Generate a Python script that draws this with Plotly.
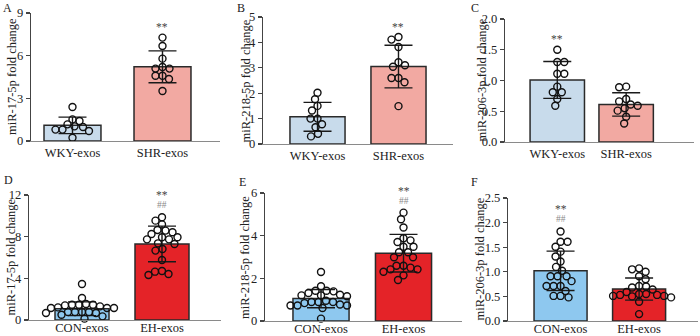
import plotly.graph_objects as go

# ---------------- data ----------------
cats_top = ["WKY-exos", "SHR-exos"]
cats_bot = ["CON-exos", "EH-exos"]

A_wky = [2.39, 1.52, 1.41, 1.17, 1.03, 0.98, 0.80, 0.80, 0.70, 0.23]
A_shr = [7.27, 6.68, 5.79, 5.20, 5.09, 5.09, 4.59, 4.59, 4.36, 3.52]
A_mean = [1.10, 5.22]
A_sd = [0.58, 1.12]

B_wky = [2.02, 1.76, 1.50, 1.32, 1.00, 1.00, 0.78, 0.66, 0.40, 0.30]
B_shr = [4.21, 4.11, 3.82, 3.22, 3.10, 3.04, 2.60, 2.60, 2.43, 1.49]
B_mean = [1.07, 3.05]
B_sd = [0.57, 0.84]

C_wky = [1.50, 1.30, 1.30, 1.11, 1.11, 0.90, 0.81, 0.81, 0.70, 0.59]
C_shr = [0.90, 0.89, 0.70, 0.66, 0.61, 0.59, 0.55, 0.51, 0.41, 0.30]
C_mean = [1.01, 0.61]
C_sd = [0.30, 0.19]

D_con = [3.45, 2.11, 1.53, 1.47, 1.47, 1.47, 1.40, 1.31, 1.21, 1.15, 1.15,
         1.15, 0.77, 0.77, 0.77, 0.77, 0.67, 0.67, 0.51, 0.35, 0.13]
D_eh = [9.86, 9.54, 9.18, 8.58, 8.64, 8.42, 7.94, 7.74, 7.74, 7.94, 8.26,
        7.30, 7.36, 6.66, 6.82, 5.76, 4.70, 4.32, 4.42, 4.64]
D_mean = [1.08, 7.30]
D_sd = [0.66, 1.71]

E_con = [2.30, 1.63, 1.42, 1.42, 1.39, 1.31, 1.23, 1.20, 1.20, 1.16, 0.95,
         0.89, 0.89, 0.89, 0.84, 0.77, 0.73, 0.73, 0.73, 0.61, 0.11]
E_eh = [5.08, 4.77, 4.38, 3.78, 3.88, 3.70, 3.48, 3.48, 3.22, 3.22, 2.99,
        2.99, 2.59, 2.50, 2.42, 2.31, 2.42, 2.59, 2.14, 1.92]
E_mean = [1.05, 3.18]
E_sd = [0.43, 0.88]

F_con = [1.82, 1.61, 1.61, 1.51, 1.41, 1.31, 1.21, 1.10, 1.02, 0.91, 0.91,
         0.91, 0.81, 0.71, 0.71, 0.71, 0.61, 0.51, 0.51, 0.48]
F_eh = [1.07, 1.05, 1.00, 0.91, 0.85, 0.71, 0.70, 0.68, 0.64, 0.59, 0.55,
        0.55, 0.53, 0.53, 0.51, 0.51, 0.50, 0.48, 0.39, 0.14]
F_mean = [1.02, 0.65]
F_sd = [0.40, 0.225]

y_titles = ["miR-17-5p fold change", "miR-218-5p fold change", "miR-206-3p fold change",
            "miR-17-5p fold change", "miR-218-5p fold change", "miR-206-3p fold change"]
letters = ["A", "B", "C", "D", "E", "F"]

# ---------------- style / layout ----------------
W, H = 700, 336
FONT = "Liberation Serif"
top_colors = ["#c8dbeb", "#f2a9a2"]
bot_colors = ["#8ec8ef", "#e42328"]

panels = [
    dict(cats=cats_top, pts=[A_wky, A_shr], mean=A_mean, sd=A_sd, colors=top_colors,
         box=(31, 220, 13, 141), xr=(-0.461, 1.639), yr=(0, 9), tick=[0, 3, 6, 9], fmt="d",
         bw=0.633, star=1, hash=False, title_x=12, letter_xy=(2, 0), lab_off=0),
    dict(cats=cats_top, pts=[B_wky, B_shr], mean=B_mean, sd=B_sd, colors=top_colors,
         box=(263, 453, 17, 144), xr=(-0.673, 1.673), yr=(0, 5), tick=[0, 1, 2, 3, 4, 5], fmt="d",
         bw=0.68, star=1, hash=False, title_x=245, letter_xy=(236, 0), lab_off=0),
    dict(cats=cats_top, pts=[C_wky, C_shr], mean=C_mean, sd=C_sd, colors=top_colors,
         box=(505, 694, 19, 142), xr=(-0.759, 1.985), yr=(0, 2), tick=[0, 0.5, 1, 1.5, 2], fmt=".1f",
         bw=0.79, star=0, hash=False, title_x=481, letter_xy=(470, 0), lab_off=0),
    dict(cats=cats_bot, pts=[D_con, D_eh], mean=D_mean, sd=D_sd, colors=bot_colors,
         box=(29, 221, 195, 320), xr=(-0.6625, 1.7375), yr=(0, 12), tick=[0, 4, 8, 12], fmt="d",
         bw=0.675, star=1, hash=True, title_x=10, letter_xy=(3, 172), lab_off=-4),
    dict(cats=cats_bot, pts=[E_con, E_eh], mean=E_mean, sd=E_sd, colors=bot_colors,
         box=(265, 462, 193, 321), xr=(-0.679, 1.709), yr=(0, 6), tick=[0, 2, 4, 6], fmt="d",
         bw=0.68, star=1, hash=True, title_x=245, letter_xy=(238, 174), lab_off=-4),
    dict(cats=cats_bot, pts=[F_con, F_eh], mean=F_mean, sd=F_sd, colors=bot_colors,
         box=(508, 698, 198, 321), xr=(-0.669, 1.75), yr=(0, 2.5), tick=[0, 0.5, 1, 1.5, 2, 2.5], fmt=".1f",
         bw=0.675, star=0, hash=True, title_x=479, letter_xy=(470, 174), lab_off=-4),
]


def swarm_offsets(vals, ppu_y, ppu_x, diam=7.0):
    order = sorted(range(len(vals)), key=lambda i: -vals[i])
    placed, offs = [], [0.0] * len(vals)
    for n, i in enumerate(order):
        y = vals[i] * ppu_y
        k, found = 0, None
        while found is None:
            if k == 0:
                cands = [0.0]
            else:
                s = 0.5 * k
                cands = [s, -s] if n % 2 == 0 else [-s, s]
            for c in cands:
                if all((c - px) ** 2 + (y - py) ** 2 >= diam ** 2 for px, py in placed):
                    found = c
                    break
            k += 1
        placed.append((found, y))
        offs[i] = found / ppu_x
    return offs


fig = go.Figure()
annotations = []
layout_axes = {}

for p_i, p in enumerate(panels):
    n = p_i + 1
    xa = "x" if n == 1 else f"x{n}"
    ya = "y" if n == 1 else f"y{n}"
    x0, x1, yt, yb = p["box"]
    ppu_x = (x1 - x0) / (p["xr"][1] - p["xr"][0])
    ppu_y = (yb - yt) / (p["yr"][1] - p["yr"][0])

    fig.add_trace(go.Bar(
        x=[0, 1], y=p["mean"], width=p["bw"], xaxis=xa, yaxis=ya,
        marker=dict(color=p["colors"], line=dict(color="#2a2a2a", width=1.5)),
        error_y=dict(type="data", array=p["sd"], visible=True, color="#1a1a1a",
                     thickness=1.4, width=14),
        showlegend=False, hoverinfo="skip"))

    for g in range(2):
        vals = p["pts"][g]
        offs = swarm_offsets(vals, ppu_y, ppu_x)
        fig.add_trace(go.Scatter(
            x=[g + o for o in offs], y=vals, mode="markers", xaxis=xa, yaxis=ya,
            marker=dict(symbol="circle-open", size=7, color="#111111", line=dict(width=1.4)),
            cliponaxis=False, showlegend=False, hoverinfo="skip"))

    axkey = "xaxis" if n == 1 else f"xaxis{n}"
    aykey = "yaxis" if n == 1 else f"yaxis{n}"
    layout_axes[axkey] = dict(
        domain=[x0 / W, x1 / W], range=list(p["xr"]), anchor=ya, automargin=False,
        tickmode="array", tickvals=[0, 1], ticktext=p["cats"],
        ticklabelstandoff=p["lab_off"],
        showline=True, linecolor="#8a8a8a", linewidth=1.3, ticks="",
        showgrid=False, zeroline=False, fixedrange=True,
        tickfont=dict(family=FONT, size=12.5, color="#222"))
    layout_axes[aykey] = dict(
        domain=[1 - yb / H, 1 - yt / H], range=list(p["yr"]), anchor=xa, automargin=False,
        tickmode="array", tickvals=p["tick"],
        ticktext=[(f"{t:.1f}" if p["fmt"] == ".1f" else f"{int(t)}") for t in p["tick"]],
        showline=True, linecolor="#444", linewidth=1.2, ticks="outside", ticklen=4,
        tickwidth=1.1, tickcolor="#444", showgrid=False, zeroline=False, fixedrange=True,
        tickfont=dict(family=FONT, size=12.5, color="#222"))

    # y-axis title
    annotations.append(dict(
        text=y_titles[p_i], xref="paper", yref="paper", x=p["title_x"] / W,
        y=1 - (yt + yb) / 2 / H, textangle=-90, showarrow=False,
        xanchor="center", yanchor="middle",
        font=dict(family=FONT, size=12.5, color="#222")))
    # panel letter
    lx, ly = p["letter_xy"]
    annotations.append(dict(
        text=letters[p_i], xref="paper", yref="paper", x=lx / W, y=1 - ly / H,
        xanchor="left", yanchor="top", showarrow=False, borderpad=0,
        font=dict(family=FONT, size=12, color="#222")))
    # significance marks
    g = p["star"]
    top_val = max(p["pts"][g])
    star_shift = 22 if p["hash"] else 10.5
    annotations.append(dict(
        text="**", xref=xa, yref=ya, x=g, y=top_val, xanchor="center", yanchor="middle",
        yshift=star_shift, showarrow=False, font=dict(family=FONT, size=11.5, color="#444")))
    if p["hash"]:
        annotations.append(dict(
            text="##", xref=xa, yref=ya, x=g, y=top_val, xanchor="center", yanchor="middle",
            yshift=12, showarrow=False, font=dict(family=FONT, size=9.5, color="#8a8a8a")))

fig.update_layout(
    width=W, height=H, margin=dict(l=0, r=0, t=0, b=0, autoexpand=False),
    paper_bgcolor="white", plot_bgcolor="white",
    font=dict(family=FONT, color="#222"),
    annotations=annotations, showlegend=False, bargap=0,
    **layout_axes)

fig.write_html(
    "out.html",
    config={"displayModeBar": False, "staticPlot": True},
    post_script="document.body.style.margin='0';document.body.style.padding='0';"
                "document.body.style.overflow='hidden';")
